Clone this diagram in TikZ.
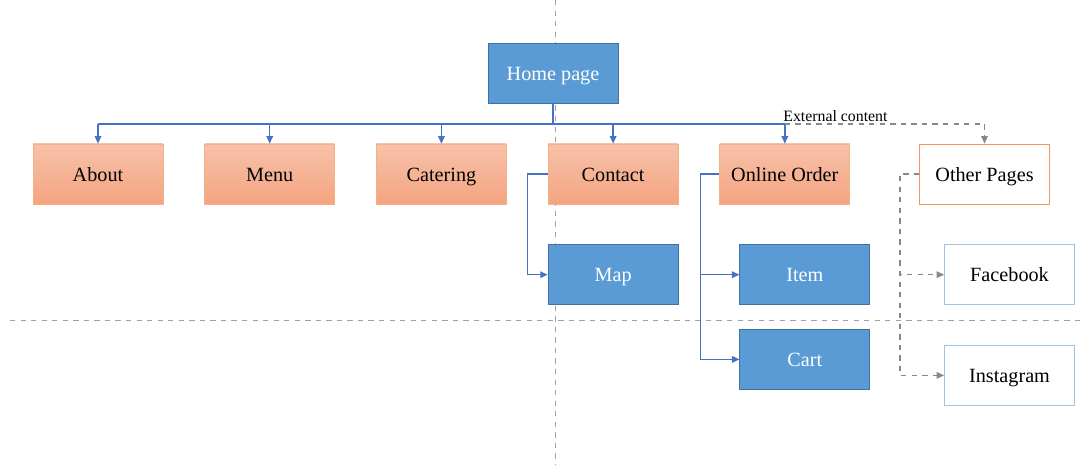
\documentclass[tikz,border=0pt]{standalone}
\usepackage{fontspec}
\setmainfont{Liberation Serif}
\usepackage{xcolor}
\definecolor{PageBlue}{RGB}{91,155,213}
\definecolor{PageBlueEdge}{RGB}{65,113,156}
\definecolor{SectTop}{RGB}{247,194,170}
\definecolor{SectBot}{RGB}{244,164,128}
\definecolor{SectEdge}{RGB}{244,177,131}
\definecolor{ExtEdge}{RGB}{242,150,90}
\definecolor{SocialEdge}{RGB}{157,195,230}
\definecolor{LinkColor}{RGB}{68,114,196}
\definecolor{GuideColor}{RGB}{160,160,160}
\usetikzlibrary{positioning, arrows.meta, calc}

\begin{document}
\begin{tikzpicture}[
    node distance=0.8cm and 0.82cm,
    every node/.style={font=\fontsize{11.5}{13}\selectfont},
    page/.style={rectangle, draw, minimum width=2.6cm, minimum height=1.2cm, inner sep=2pt, text height=1.9ex, text depth=0.15ex, align=center},
    mainpage/.style={page, fill=PageBlue, draw=PageBlueEdge, text=white},
    section/.style={page, top color=SectTop, bottom color=SectBot, draw=SectEdge},
    external/.style={page, fill=white, draw=ExtEdge},
    social/.style={page, fill=white, draw=SocialEdge},
    link/.style={LinkColor, line width=0.8pt},
    arrow/.style={link, -{Triangle[length=1.5mm, width=1.3mm]}},
    extarrow/.style={GuideColor!85!black, line width=0.8pt, dashed, -{Triangle[length=1.5mm, width=1.3mm]}},
    guide/.style={GuideColor, line width=0.5pt, dashed},
]

\useasboundingbox (0,0) rectangle (21.68,-9.3);

% Guides
\draw[guide] (11.1,0) -- (11.1,-9.3);
\draw[guide] (0.2,-6.4) -- (21.68,-6.4);

% Home
\node[mainpage] (home) at (11.06,-1.46) {Home page};

% Sections
\node[section] (about) at (1.96,-3.48) {About};
\node[section, right=of about] (menu) {Menu};
\node[section, right=of menu] (catering) {Catering};
\node[section, right=of catering] (contact) {Contact};
\node[section, right=of contact] (order) {Online Order};
\node[external, right=1.38cm of order] (other) {Other Pages};

% Sub pages
\node[mainpage, below=of contact] (map) {Map};
\node[mainpage, below=of order, xshift=0.4cm] (item) {Item};
\node[mainpage, below=0.48cm of item] (cart) {Cart};
\node[social, below=of other, xshift=0.5cm] (facebook) {Facebook};
\node[social, below=of facebook] (instagram) {Instagram};

% Bus from home
\draw[link] (home.south) -- ++(0,-0.41) coordinate (bus);
\draw[link] (about.north |- bus) -- (order.north |- bus);
\foreach \sect in {about, menu, catering, contact, order} {
    \draw[arrow] (\sect.north |- bus) -- (\sect.north);
}

% External content
\draw[extarrow] (order.north |- bus) -| (other.north);
\node[above right=0pt and -2pt of order.north |- bus, font=\fontsize{9}{11}\selectfont, inner sep=1pt] (extlabel) {External content};

% Sub page links
\draw[arrow] (contact.west) -- ++(-0.4,0) |- (map.west);
\draw[arrow] (order.west) -- ++(-0.38,0) |- (item.west);
\draw[arrow] (order.west) -- ++(-0.38,0) |- (cart.west);
\draw[extarrow] (other.west) -- ++(-0.38,0) |- (facebook.west);
\draw[extarrow] (other.west) -- ++(-0.38,0) |- (instagram.west);

\end{tikzpicture}
\end{document}
